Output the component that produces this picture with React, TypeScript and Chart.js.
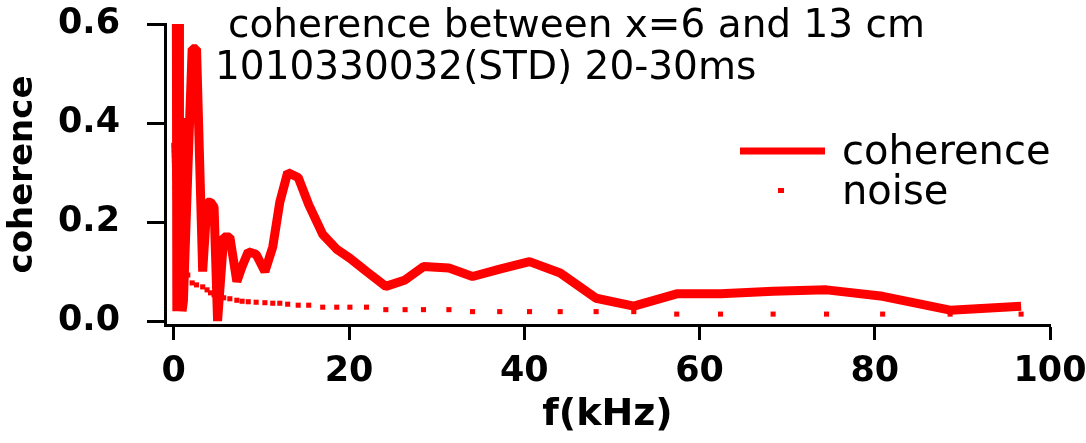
import React, { useEffect, useRef } from 'react';
import { Chart, registerables } from 'chart.js';

Chart.register(...registerables);

// frequency grid (kHz) shared by both series
const freqKHz = [
  0.0, 0.02, 0.04, 0.06, 0.08, 0.1, 0.12, 0.14, 0.16, 0.18, 0.2, 0.22, 0.24, 0.26, 0.28, 0.3,
  0.35, 0.4, 0.45, 0.5, 0.55, 0.6, 0.65, 0.8, 0.95, 1.1,
  1.6, 2.1, 2.6, 3.3, 3.8, 4.2, 4.6, 5.0,
  5.7, 6.4, 7.2, 7.8, 8.5, 9.4, 10.4, 11.3, 12.1, 13.0,
  14.2, 15.4, 17.0, 18.6, 20.1, 22.0, 24.2, 26.4, 28.5, 31.4,
  34.1, 37.2, 40.6, 44.1, 48.2, 52.5, 57.4, 62.4, 68.4, 74.5, 80.9, 88.6, 96.7,
];

const coherence = [
  null, null, null, null, null, null, null, null, null, null, null, null, null, null, null, 0.6,
  0.02, 0.6, 0.02, 0.6, 0.02, 0.6, 0.02, 0.41, 0.02, 0.04,
  0.3, 0.55, 0.55, 0.1, 0.24, 0.24, 0.23, 0.0,
  0.17, 0.17, 0.08, 0.11, 0.14, 0.135, 0.1, 0.15, 0.24, 0.3,
  0.29, 0.235, 0.175, 0.145, 0.127, 0.1, 0.07, 0.083, 0.11, 0.107,
  0.09, 0.105, 0.12, 0.097, 0.046, 0.03, 0.055, 0.055, 0.06, 0.063, 0.05, 0.022, 0.03,
];

const noise = [
  0.355, 0.345, 0.335, 0.325, 0.315, 0.305, 0.295, 0.285, 0.27, 0.255, 0.24, 0.225, 0.21, 0.195, 0.18, 0.17,
  0.16, 0.15, 0.14, 0.13, 0.125, 0.12, 0.115, 0.105, 0.1, 0.097,
  0.093, 0.077, 0.073, 0.069, 0.063, 0.057, 0.053, 0.05,
  0.047, 0.045, 0.042, 0.04, 0.039, 0.038, 0.037, 0.036, 0.036, 0.034,
  0.032, 0.032, 0.028, 0.028, 0.028, 0.028, 0.023, 0.023, 0.023, 0.023,
  0.019, 0.019, 0.019, 0.019, 0.019, 0.019, 0.014, 0.014, 0.014, 0.014, 0.014, 0.014, 0.014,
];

const xTicks = [0, 20, 40, 60, 80, 100];
const yTicks = [0, 0.2, 0.4, 0.6];
const titleLines = ['coherence between x=6 and 13 cm', '1010330032(STD) 20-30ms'];
const seriesNames = ['coherence', 'noise'];
const xTitle = 'f(kHz)';
const yTitle = 'coherence';

const RED = '#ff0000';

const overlayPlugin = {
  id: 'overlay',
  afterDraw(chart: any) {
    const ctx = chart.ctx as CanvasRenderingContext2D;
    const ds = chart.data.datasets;
    ctx.save();
    ctx.fillStyle = '#000';
    ctx.textAlign = 'left';
    ctx.textBaseline = 'alphabetic';
    ctx.font = '39px "DejaVu Sans"';
    ctx.fillText(titleLines[0], 228, 37);
    ctx.fillText(titleLines[1], 215, 79);

    // legend
    ctx.strokeStyle = ds[0].borderColor;
    ctx.lineWidth = 7;
    ctx.lineCap = 'butt';
    ctx.beginPath();
    ctx.moveTo(740, 151);
    ctx.lineTo(825, 151);
    ctx.stroke();
    ctx.fillStyle = ds[1].backgroundColor;
    ctx.fillRect(778, 188, 6, 5);
    ctx.fillStyle = '#000';
    ctx.font = '40px "DejaVu Sans"';
    ctx.fillText(ds[0].label, 842, 164);
    ctx.fillText(ds[1].label, 842, 204);
    ctx.restore();
  },
};

export default function App() {
  const canvasRef = useRef<HTMLCanvasElement | null>(null);

  useEffect(() => {
    if (!canvasRef.current) return;
    const cohPoints = freqKHz.map((f, i) => ({ x: f, y: coherence[i] }));
    const noisePoints = freqKHz.map((f, i) => ({ x: f, y: noise[i] }));
    const chart = new Chart(canvasRef.current, {
      type: 'line',
      data: {
        datasets: [
          {
            label: seriesNames[0],
            data: cohPoints as any,
            borderColor: RED,
            backgroundColor: RED,
            borderWidth: 9,
            borderJoinStyle: 'bevel',
            pointRadius: 0,
            tension: 0,
            spanGaps: false,
            clip: false as any,
          },
          {
            label: seriesNames[1],
            data: noisePoints as any,
            showLine: false,
            borderColor: RED,
            backgroundColor: RED,
            pointStyle: 'rect',
            pointRadius: 3.6,
            pointBorderWidth: 0,
            pointHoverRadius: 3.6,
          },
        ],
      },
      options: {
        responsive: false,
        animation: false,
        events: [],
        layout: { padding: { left: 0, right: 36, top: 24, bottom: 0 } },
        plugins: {
          legend: { display: false },
          title: { display: false },
          tooltip: { enabled: false },
        },
        scales: {
          x: {
            type: 'linear',
            min: -1,
            max: 100,
            afterBuildTicks: (axis: any) => {
              axis.ticks = xTicks.map((v) => ({ value: v }));
            },
            afterFit: (scale: any) => {
              scale.height = 118;
              scale.paddingLeft = 0;
              scale.paddingRight = 0;
            },
            border: { display: true, color: '#000', width: 3 },
            grid: {
              drawOnChartArea: false,
              drawTicks: true,
              tickLength: 15,
              tickWidth: 3,
              tickColor: '#000',
            },
            ticks: {
              color: '#000',
              padding: 11,
              maxRotation: 0,
              autoSkip: false,
              font: { family: '"DejaVu Sans"', size: 35, weight: 'bold' },
              callback: (v: any) => String(v),
            },
            title: {
              display: true,
              text: xTitle,
              color: '#000',
              padding: { top: 0, bottom: 5 },
              font: { family: '"DejaVu Sans"', size: 38, weight: 'bold' },
            },
          },
          y: {
            type: 'linear',
            min: -0.008,
            max: 0.6,
            afterBuildTicks: (axis: any) => {
              axis.ticks = yTicks.map((v) => ({ value: v }));
            },
            afterFit: (scale: any) => {
              scale.width = 165;
              scale.paddingTop = 0;
              scale.paddingBottom = 0;
            },
            border: { display: true, color: '#000', width: 3 },
            grid: {
              drawOnChartArea: false,
              drawTicks: true,
              tickLength: 18,
              tickWidth: 3,
              tickColor: '#000',
            },
            ticks: {
              color: '#000',
              padding: 27,
              autoSkip: false,
              font: { family: '"DejaVu Sans"', size: 35, weight: 'bold' },
              callback: (v: any) => Number(v).toFixed(1),
            },
            title: {
              display: true,
              text: yTitle,
              color: '#000',
              padding: { top: 3, bottom: 0 },
              font: { family: '"DejaVu Sans"', size: 34, weight: 'bold' },
            },
          },
        },
      },
      plugins: [overlayPlugin],
    });
    return () => chart.destroy();
  }, []);

  return (
    <div style={{ position: 'absolute', left: 0, top: 0, width: 1086, height: 443, background: '#fff' }}>
      <canvas ref={canvasRef} width={1086} height={443} />
    </div>
  );
}
